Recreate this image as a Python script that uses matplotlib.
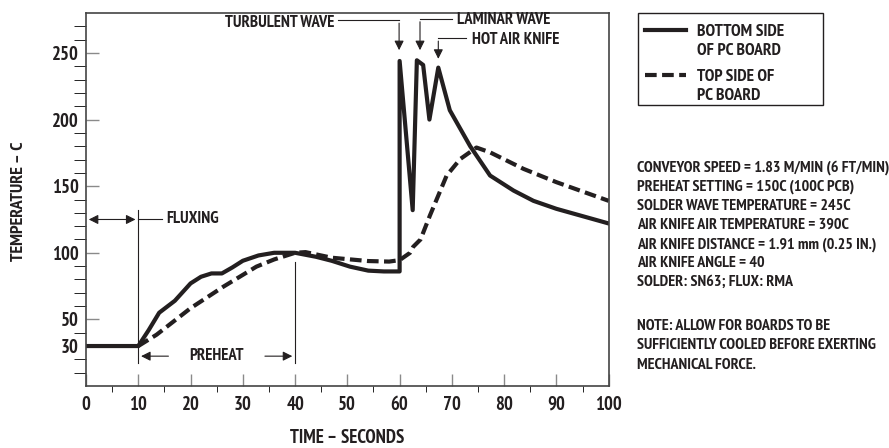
import numpy as np
import matplotlib
matplotlib.use('Agg')
import matplotlib.pyplot as plt
from matplotlib.lines import Line2D
from matplotlib.patches import Rectangle

plt.rcParams['font.family'] = ['PT Sans Narrow', 'DejaVu Sans']
plt.rcParams['font.weight'] = 'bold'

# bottom side of pc board (solid)
t_bottom = [0, 10, 12, 14, 17, 20, 22, 24, 26, 28, 30, 33, 36, 40, 44, 47, 50.5, 54,
            57, 60, 60, 62.5, 63.3, 64.5, 65.7, 67.4, 69.6, 73.5, 77.3, 81.8, 85.6,
            90, 95, 100]
T_bottom = [30, 30, 42, 55, 64, 77, 82, 84.5, 84.5, 89, 94, 98, 100, 100, 97, 94, 89.6,
            86.6, 86, 86, 244, 132, 244.5, 241, 200, 239, 207, 180, 158, 146.7, 139,
            133, 127.5, 122]

# top side of pc board (dashed)
t_top = [10, 13.5, 20, 26.3, 32.6, 36, 40, 42, 47, 54, 58, 60, 62, 62.6, 64, 65.8, 69,
         71.6, 74.7, 77.3, 83.7, 90, 95, 100]
T_top = [30, 38.5, 58.4, 74.6, 89.6, 95, 100, 100.5, 96.3, 93.8, 93.4, 94.5, 100, 104.5,
         110, 128, 158, 170.4, 179, 175.4, 163, 153, 146, 139]

x_ticks = [0, 10, 20, 30, 40, 50, 60, 70, 80, 90, 100]
y_ticks = [30, 50, 100, 150, 200, 250]

legend_labels = [['BOTTOM SIDE', 'OF PC BOARD'], ['TOP SIDE OF', 'PC BOARD']]

notes = ['CONVEYOR SPEED = 1.83 M/MIN (6 FT/MIN)',
         'PREHEAT SETTING = 150C (100C PCB)',
         'SOLDER WAVE TEMPERATURE = 245C',
         'AIR KNIFE AIR TEMPERATURE = 390C',
         'AIR KNIFE DISTANCE = 1.91 mm (0.25 IN.)',
         'AIR KNIFE ANGLE = 40',
         'SOLDER: SN63; FLUX: RMA']
note2 = ['NOTE: ALLOW FOR BOARDS TO BE',
         'SUFFICIENTLY COOLED BEFORE EXERTING',
         'MECHANICAL FORCE.']

ink = '#231f20'
W, H = 889, 448
fx = lambda px: px / W
fy = lambda py: 1 - py / H

fig = plt.figure(figsize=(W/100, H/100), dpi=100)
ax = fig.add_axes([fx(86), fy(386), (608.7-86)/W, (386-13)/H])

ax.plot(t_bottom, T_bottom, color=ink, lw=3, solid_joinstyle='round')
ax.plot(t_top, T_top, color=ink, lw=3, dashes=(2.8, 1.3))

ax.set_xlim(0, 100)
ax.set_ylim(0, 280)
ax.set_xticks(x_ticks)
ax.set_xticks(np.arange(5, 100, 10), minor=True)
ax.set_yticks(y_ticks)
ax.set_yticks(np.arange(10, 280, 10), minor=True)
ax.tick_params(axis='both', direction='in', color='#8a8a8a', labelsize=13.5,
               labelcolor=ink, width=1)
ax.tick_params(axis='x', which='major', length=9, pad=7)
ax.tick_params(axis='x', which='minor', length=4.5)
ax.tick_params(axis='y', which='both', length=9, pad=5)
for s in ax.spines.values():
    s.set_color('#444444')
    s.set_linewidth(1.2)

fig.text(fx(347), fy(438), 'TIME – SECONDS', fontsize=13.5, color=ink, ha='center', va='center')
fig.text(fx(19), fy(201.5), 'TEMPERATURE – C', fontsize=13, color=ink, ha='center', va='center',
         rotation=90)

fs = 12
arr = dict(arrowstyle='-|>', color=ink, lw=0.8, mutation_scale=14)
# wave annotations
ax.annotate('', xy=(59.9, 250), xytext=(59.9, 274.5), arrowprops=arr)
ax.plot([48.3, 59.9], [274.5, 274.5], color=ink, lw=0.8)
ax.text(47.5, 272.5, 'TURBULENT WAVE', ha='right', va='center', fontsize=fs, color=ink)

ax.annotate('', xy=(63.9, 250), xytext=(63.9, 275.5), arrowprops=arr)
ax.plot([63.9, 70], [275.5, 275.5], color=ink, lw=0.8)
ax.text(71, 274.5, 'LAMINAR WAVE', ha='left', va='center', fontsize=fs, color=ink)

ax.annotate('', xy=(67.4, 243.5), xytext=(67.4, 261), arrowprops=arr)
ax.plot([67.4, 72.7], [261, 261], color=ink, lw=0.8)
ax.text(73.8, 259.5, 'HOT AIR KNIFE', ha='left', va='center', fontsize=fs, color=ink)

# fluxing / preheat markers
ax.plot([10, 10], [17, 132], color=ink, lw=0.8)
ax.plot([40, 40], [17, 93], color=ink, lw=0.8)
ax.annotate('', xy=(0, 125), xytext=(10, 125),
            arrowprops=dict(arrowstyle='<|-|>', color=ink, lw=0.8, mutation_scale=14))
ax.plot([10, 14.5], [125, 125], color=ink, lw=0.8)
ax.text(15.3, 125, 'FLUXING', ha='left', va='center', fontsize=fs, color=ink)
ax.annotate('', xy=(10, 22.4), xytext=(16.3, 22.4), arrowprops=arr)
ax.annotate('', xy=(40, 22.4), xytext=(33.7, 22.4), arrowprops=arr)
ax.text(25, 22.4, 'PREHEAT', ha='center', va='center', fontsize=fs, color=ink)

# legend box drawn by hand
fig.add_artist(Rectangle((fx(638.3), fy(105.3)), (822.7-638.3)/W, (105.3-13)/H,
                         transform=fig.transFigure, fill=False, edgecolor=ink, lw=1.0))
fig.add_artist(Line2D([fx(645), fx(686)], [fy(29.7)]*2, transform=fig.transFigure,
                      color=ink, lw=3))
fig.add_artist(Line2D([fx(645), fx(686)], [fy(74.7)]*2, transform=fig.transFigure,
                      color=ink, lw=3, dashes=(2.8, 1.3)))
for base, lines in zip([36.3, 81.3], legend_labels):
    for j, line in enumerate(lines):
        fig.text(fx(696.7), fy(base + j*18.4), line, fontsize=12.5, color=ink, va='baseline')

for i, line in enumerate(notes):
    fig.text(fx(636.7), fy(171.7+i*19.1), line, fontsize=11.5, color=ink, va='baseline')
for i, line in enumerate(note2):
    fig.text(fx(636.7), fy(330+i*19.4), line, fontsize=11.5, color=ink, va='baseline')

fig.savefig('out.png', dpi=100)
